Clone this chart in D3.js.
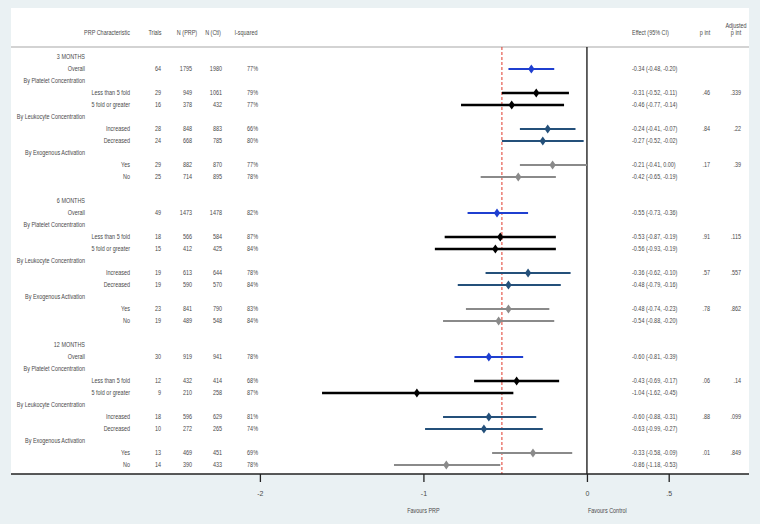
<!DOCTYPE html>
<html><head><meta charset="utf-8">
<script src="https://cdn.jsdelivr.net/npm/d3@7"></script>
<style>body{margin:0;background:#eaf1f3;} svg{display:block;} text{font-family:"Liberation Sans",Arial,sans-serif;}</style>
</head><body><svg id="c" width="760" height="524"></svg>
<script>
// ---- data ----
const periods = ["3 MONTHS", "6 MONTHS", "12 MONTHS"];
const groupHeads = ["By Platelet Concentration", "By Leukocyte Concentration", "By Exogenous Activation"];
const subLabels = ["Less than 5 fold", "5 fold or greater", "Increased", "Decreased", "Yes", "No"];
const rowKinds = ["overall", "platelet", "platelet", "leuko", "leuko", "exo", "exo"];
const trials = [[64,29,16,28,24,29,25],[49,18,15,19,19,23,19],[30,12,9,18,10,13,14]];
const nPRP = [[1795,949,378,848,668,882,714],[1473,566,412,613,590,841,489],[919,432,210,596,272,469,390]];
const nCtl = [[1980,1061,432,883,785,870,895],[1478,584,425,644,570,790,548],[941,414,258,629,265,451,433]];
const iSq = [["77%","79%","77%","66%","80%","77%","78%"],["82%","87%","84%","78%","84%","83%","84%"],["78%","68%","87%","81%","74%","69%","78%"]];
const effect = [[-0.34,-0.31,-0.46,-0.24,-0.27,-0.21,-0.42],[-0.55,-0.53,-0.56,-0.36,-0.48,-0.48,-0.54],[-0.60,-0.43,-1.04,-0.60,-0.63,-0.33,-0.86]];
const lower = [[-0.48,-0.52,-0.77,-0.41,-0.52,-0.41,-0.65],[-0.73,-0.87,-0.93,-0.62,-0.79,-0.74,-0.88],[-0.81,-0.69,-1.62,-0.88,-0.99,-0.58,-1.18]];
const upper = [[-0.20,-0.11,-0.14,-0.07,-0.02,0.00,-0.19],[-0.36,-0.19,-0.19,-0.10,-0.16,-0.23,-0.20],[-0.39,-0.17,-0.45,-0.31,-0.27,-0.09,-0.53]];
const pInt = [[".46",".84",".17"],[".91",".57",".78"],[".06",".88",".01"]];
const adjP = [[".339",".22",".39"],[".115",".557",".862"],[".14",".099",".849"]];
const pooled = -0.52;
const xTicks = [-2, -1, 0, 0.5];
const xTickLabels = ["-2", "-1", "0", ".5"];

// ---- layout ----
const svg = d3.select("#c");
const panel = {x0: 11, x1: 749, y0: 8, y1: 474};
const x = d3.scaleLinear().domain([-2, 0.5]).range([259.9, 668.7]);
const y = d3.scaleLinear().domain([0, 34]).range([57, 465]);
const kindStyle = {
  overall: {c: "#1f3fd0", w: 2},
  platelet: {c: "#000000", w: 2.4},
  leuko: {c: "#24507a", w: 2},
  exo: {c: "#8a8a8a", w: 2}
};
const txt = "#4a4a4a";
const fs = 7;
const sx = 0.78;

svg.append("rect").attr("x", panel.x0).attr("y", panel.y0).attr("width", panel.x1 - panel.x0).attr("height", panel.y1 - panel.y0).attr("fill", "#fff");

function t(xp, yp, s, anchor) {
  return svg.append("text").attr("transform", `translate(${xp},${yp}) scale(${sx},1)`).attr("dy", "0.35em").attr("font-size", fs).attr("fill", txt).attr("text-anchor", anchor || "start").text(s);
}
// header
t(130, 33, "PRP Characteristic", "end");
t(155, 33, "Trials", "middle");
t(187, 33, "N (PRP)", "middle");
t(213, 33, "N (Ctl)", "middle");
t(246, 33, "I-squared", "middle");
t(632, 33, "Effect (95% CI)", "start");
t(705, 33, "p int", "middle");
t(736, 26, "Adjusted", "middle");
t(736, 33, "p int", "middle");
svg.append("line").attr("x1", panel.x0).attr("x2", panel.x1).attr("y1", 47).attr("y2", 47).attr("stroke", "#a8a8a8").attr("stroke-width", 1.2);

// rows
const rows = [];
periods.forEach((p, pi) => {
  const base = pi * 12;
  rows.push({type: "head", label: p, r: base});
  const idx = [[0, base + 1]];
  groupHeads.forEach((g, gi) => {
    rows.push({type: "head", label: g, r: base + 2 + gi * 3});
    idx.push([1 + gi * 2, base + 3 + gi * 3]);
    idx.push([2 + gi * 2, base + 4 + gi * 3]);
  });
  idx.forEach(([k, r]) => {
    rows.push({type: "data", pi, k, r, label: k === 0 ? "Overall" : subLabels[k - 1]});
  });
});

// vertical reference lines
svg.append("line").attr("x1", x(0)).attr("x2", x(0)).attr("y1", 47).attr("y2", panel.y1).attr("stroke", "#111").attr("stroke-width", 1.3);
svg.append("line").attr("x1", x(pooled)).attr("x2", x(pooled)).attr("y1", 47).attr("y2", panel.y1).attr("stroke", "#e0392b").attr("stroke-width", 1).attr("stroke-dasharray", "3,2");

rows.forEach(d => {
  const yy = y(d.r);
  if (d.type === "head") { t(85, yy, d.label, "end"); return; }
  const {pi, k} = d;
  t(k === 0 ? 85 : 130, yy, d.label, "end");
  t(161, yy, trials[pi][k], "end");
  t(192, yy, nPRP[pi][k], "end");
  t(222, yy, nCtl[pi][k], "end");
  t(258, yy, iSq[pi][k], "end");
  const f = v => v.toFixed(2);
  t(632, yy, `${f(effect[pi][k])} (${f(lower[pi][k])}, ${f(upper[pi][k])})`, "start");
  if (k % 2 === 1) {
    const gi = (k - 1) / 2;
    t(710, yy, pInt[pi][gi], "end");
    t(741, yy, adjP[pi][gi], "end");
  }
  const st = kindStyle[rowKinds[k]];
  svg.append("line").attr("x1", x(lower[pi][k])).attr("x2", x(upper[pi][k])).attr("y1", yy).attr("y2", yy).attr("stroke", st.c).attr("stroke-width", st.w);
  const cx = x(effect[pi][k]);
  svg.append("path").attr("d", `M${cx},${yy - 4.5}L${cx + 3.2},${yy}L${cx},${yy + 4.5}L${cx - 3.2},${yy}Z`).attr("fill", st.c);
});

// axis
const ax = svg.append("g").attr("transform", `translate(0,${panel.y1})`);
ax.append("line").attr("x1", panel.x0).attr("x2", panel.x1).attr("y1", 0).attr("y2", 0).attr("stroke", "#222").attr("stroke-width", 1.3);
const axis = d3.axisBottom(x).tickValues(xTicks).tickFormat((d, i) => xTickLabels[i]).tickSize(8).tickPadding(9);
ax.call(axis);
ax.select(".domain").remove();
ax.selectAll(".tick line").attr("stroke", "#222").attr("stroke-width", 1.3);
ax.selectAll(".tick text").attr("font-size", fs).attr("fill", txt).attr("font-family", '"Liberation Sans",Arial,sans-serif');
t(x(-1), 511, "Favours PRP", "middle");
t(x(0) + 1, 511, "Favours Control", "start");
</script></body></html>
